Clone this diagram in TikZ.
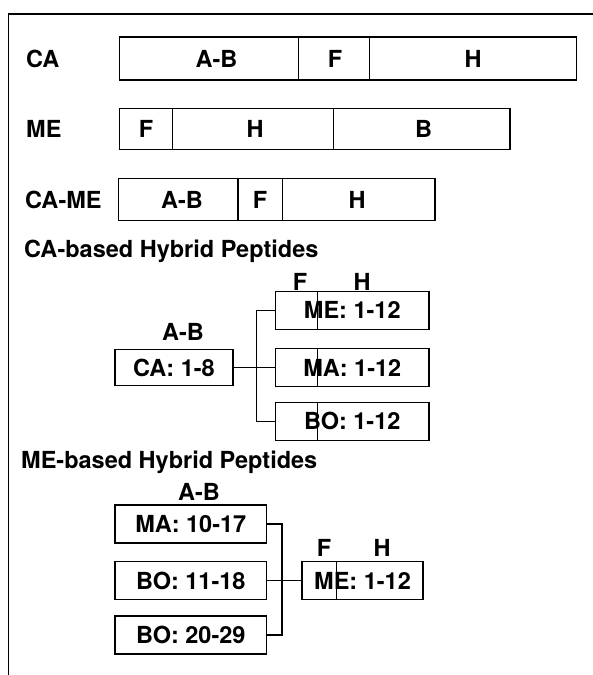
\documentclass[tikz,border=0pt]{standalone}
\usepackage{fontspec}
\setmainfont{TeX Gyre Heros}
\begin{document}
\begin{tikzpicture}[x=1pt,y=-1pt,
  every node/.style={font=\fontsize{23.5}{27}\selectfont\bfseries},
  seg/.style={draw, line width=1.1pt, inner sep=0pt},
  txt/.style={inner sep=0pt},
  ln/.style={line width=1.1pt}]
\useasboundingbox (0,0) rectangle (593,675);
% frame
\coordinate (f0) at (8.5,675);
\coordinate (f1) at (8.5,14);
\coordinate (f2) at (593,14);
\draw[line width=1.2pt] (f0) -- (f1) -- (f2);

% Row CA
\node[txt, anchor=west] (lca) at (26,58.5) {CA};
\node[seg, minimum width=179pt, minimum height=43pt] (caab) at (209,58.5) {};
\node[seg, minimum width=71pt, minimum height=43pt] (caf) at (334,58.5) {};
\node[seg, minimum width=207pt, minimum height=43pt] (cah) at (473,58.5) {};
\node[txt] (tcaab) at (216.5,58.5) {A-B};
\node[txt] (tcaf) at (335,58.5) {F};
\node[txt] (tcah) at (473,58.5) {H};

% Row ME
\node[txt, anchor=west] (lme) at (26,129) {ME};
\node[seg, minimum width=53pt, minimum height=41pt] (mef) at (146,129) {};
\node[seg, minimum width=161pt, minimum height=41pt] (meh) at (253,129) {};
\node[seg, minimum width=176.5pt, minimum height=41pt] (meb) at (421.75,129) {};
\node[txt] (tmef) at (146,129) {F};
\node[txt] (tmeh) at (255,129) {H};
\node[txt] (tmeb) at (423.5,129) {B};

% Row CA-ME
\node[txt, anchor=west] (lcame) at (25,199.5) {CA-ME};
\node[seg, minimum width=119.5pt, minimum height=42pt] (cmab) at (178.25,199.5) {};
\node[seg, minimum width=44.5pt, minimum height=42pt] (cmf) at (260.25,199.5) {};
\node[seg, minimum width=152.5pt, minimum height=42pt] (cmh) at (358.75,199.5) {};
\node[txt] (tcmab) at (182,199.5) {A-B};
\node[txt] (tcmf) at (260,199.5) {F};
\node[txt] (tcmh) at (357,199.5) {H};

% CA-based hybrids
\node[txt, anchor=west] (t1) at (24,251) {CA-based Hybrid Peptides};
\node[txt] (abl1) at (183,332) {A-B};
\node[txt] (fl1) at (300,282) {F};
\node[txt] (hl1) at (362,282) {H};
\node[seg, minimum width=118pt, minimum height=36pt] (ca18) at (174,367.5) {CA: 1-8};
\node[seg, minimum width=153.5pt, minimum height=37.5pt] (hme) at (352.25,310.4) {ME: 1-12};
\node[seg, minimum width=153.5pt, minimum height=37.5pt] (hma) at (352.25,367.5) {MA: 1-12};
\node[seg, minimum width=153.5pt, minimum height=37.5pt] (hbo) at (352.25,421.4) {BO: 1-12};
\foreach \n in {hme,hma,hbo}{
  \draw[ln] ([xshift=42.5pt]\n.north west) -- ([xshift=42.5pt]\n.south west);
}
\coordinate (j1) at (256.5,367.5);
\draw[ln] (ca18.east) -- (hma.west);
\draw[ln] (hme.west) -- (hme.west -| j1) -- (hbo.west -| j1) -- (hbo.west);

% ME-based hybrids
\node[txt, anchor=west] (t2) at (21,462) {ME-based Hybrid Peptides};
\node[txt] (abl2) at (199,492) {A-B};
\node[txt] (fl2) at (324,548) {F};
\node[txt] (hl2) at (382,548) {H};
\node[seg, minimum width=151.5pt, minimum height=38pt] (ma1017) at (190.75,524) {MA: 10-17};
\node[seg, minimum width=151.5pt, minimum height=37.5pt] (bo1118) at (190.75,580.5) {BO: 11-18};
\node[seg, minimum width=151.5pt, minimum height=38pt] (bo2029) at (190.75,635) {BO: 20-29};
\node[seg, minimum width=121pt, minimum height=37.5pt] (me112) at (362.5,580.5) {ME: 1-12};
\draw[ln] ([xshift=34.7pt]me112.north west) -- ([xshift=34.7pt]me112.south west);
\coordinate (j2) at (282,580.5);
\draw[ln] (bo1118.east) -- (me112.west);
\draw[ln] (ma1017.east) -- (ma1017.east -| j2) -- (bo2029.east -| j2) -- (bo2029.east);
\end{tikzpicture}
\end{document}
